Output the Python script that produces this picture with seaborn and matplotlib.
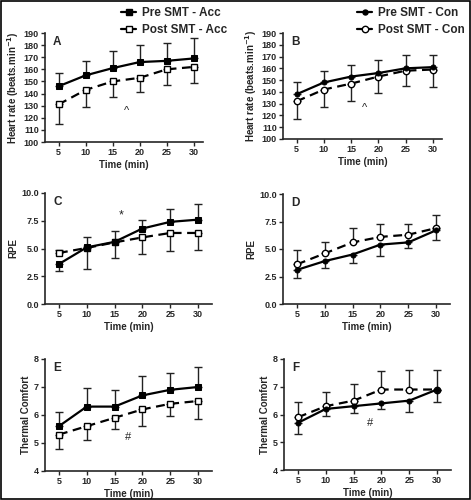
import numpy as np
import pandas as pd
import matplotlib
matplotlib.use("Agg")
import matplotlib.pyplot as plt
import seaborn as sns
from matplotlib.lines import Line2D
from matplotlib.patches import Rectangle

sns.set_style("ticks")
plt.rcParams['font.family'] = ['Liberation Sans', 'DejaVu Sans']

time = [5, 10, 15, 20, 25, 30]

# heart rate (beats.min-1)
hr_pre_acc = [146, 155, 161, 166, 167, 169]
hr_pre_acc_sd = [11, 12, 14, 14, 15, 17]
hr_post_acc = [131, 143, 150, 153, 160, 162]
hr_post_acc_sd = [16, 14, 13, 12, 13, 13]
hr_pre_con = [138, 148, 153, 156, 160, 161]
hr_pre_con_sd = [10, 10, 10, 11, 11, 10]
hr_post_con = [132, 142, 147, 153, 158, 159]
hr_post_con_sd = [15, 15, 15, 14, 13, 15]

# RPE
rpe_pre_acc = [3.6, 5.1, 5.6, 6.8, 7.4, 7.6]
rpe_pre_acc_sd = [0.6, 0.9, 1.0, 0.8, 1.2, 1.4]
rpe_post_acc = [4.6, 5.05, 5.55, 6.0, 6.4, 6.4]
rpe_post_acc_sd = [0.3, 1.9, 1.4, 1.5, 1.6, 1.5]
rpe_pre_con = [3.1, 3.9, 4.5, 5.4, 5.6, 6.7]
rpe_pre_con_sd = [0.7, 0.6, 0.8, 1.0, 0.5, 0.9]
rpe_post_con = [3.6, 4.6, 5.6, 6.1, 6.3, 6.9]
rpe_post_con_sd = [1.3, 1.0, 1.3, 1.2, 1.0, 1.2]

# thermal comfort
tc_pre_acc = [5.6, 6.3, 6.3, 6.7, 6.9, 7.0]
tc_pre_acc_sd = [0.5, 0.65, 0.6, 0.7, 0.6, 0.7]
tc_post_acc = [5.3, 5.6, 5.9, 6.2, 6.4, 6.5]
tc_post_acc_sd = [0.5, 0.5, 0.4, 0.6, 0.45, 0.65]
tc_pre_con = [5.7, 6.2, 6.3, 6.4, 6.5, 6.9]
tc_pre_con_sd = [0.4, 0.25, 0.25, 0.2, 0.4, 0.45]
tc_post_con = [5.9, 6.3, 6.5, 6.9, 6.9, 6.9]
tc_post_con_sd = [0.55, 0.5, 0.6, 0.65, 0.7, 0.7]

W, H = 471, 500
fig = plt.figure(figsize=(W / 100, H / 100), dpi=100)

# axes boxes in pixels: left, top, right, bottom
boxes = {
    'A': (45, 33, 203, 142), 'B': (283, 33, 442, 139),
    'C': (45, 193, 212, 304), 'D': (283, 194, 450, 304),
    'E': (45, 359, 212, 471), 'F': (284, 359, 451, 470),
}

def make_ax(key):
    l, t, r, b = boxes[key]
    return fig.add_axes([l / W, 1 - b / H, (r - l) / W, (b - t) / H])

# marker, pre size, post size
acc_mk = ('s', 4.2, 4.6)
con_mk = ('o', 3.6, 4.6)

panels = [
    ('A', hr_pre_acc, hr_pre_acc_sd, hr_post_acc, hr_post_acc_sd, acc_mk, 'hr'),
    ('B', hr_pre_con, hr_pre_con_sd, hr_post_con, hr_post_con_sd, con_mk, 'hr'),
    ('C', rpe_pre_acc, rpe_pre_acc_sd, rpe_post_acc, rpe_post_acc_sd, acc_mk, 'rpe'),
    ('D', rpe_pre_con, rpe_pre_con_sd, rpe_post_con, rpe_post_con_sd, con_mk, 'rpe'),
    ('E', tc_pre_acc, tc_pre_acc_sd, tc_post_acc, tc_post_acc_sd, acc_mk, 'tc'),
    ('F', tc_pre_con, tc_pre_con_sd, tc_post_con, tc_post_con_sd, con_mk, 'tc'),
]

for key, pre, pre_sd, post, post_sd, (mk, ms_pre, ms_post), kind in panels:
    ax = make_ax(key)
    pre = np.array(pre); post = np.array(post)
    pre_sd = np.array(pre_sd); post_sd = np.array(post_sd)
    pre_up = pre > post
    # error bars only drawn away from the other series
    pre_err = [np.where(pre_up, 0, pre_sd), np.where(pre_up, pre_sd, 0)]
    post_err = [np.where(pre_up, post_sd, 0), np.where(pre_up, 0, post_sd)]
    ax.errorbar(time, pre, yerr=pre_err, fmt='none', ecolor='#222222',
                elinewidth=1.0, capsize=3, capthick=1.0, zorder=1)
    ax.errorbar(time, post, yerr=post_err, fmt='none', ecolor='#222222',
                elinewidth=1.0, capsize=3, capthick=1.0, zorder=1)

    df = pd.DataFrame({'time': time * 2, 'value': np.concatenate([pre, post]),
                       'group': ['Pre'] * 6 + ['Post'] * 6})
    sns.lineplot(data=df[df.group == 'Post'], x='time', y='value', ax=ax,
                 color='black', lw=1.6, linestyle=(0, (4, 2.5)), marker=mk,
                 markersize=ms_post, markerfacecolor='white', markeredgecolor='black',
                 markeredgewidth=1.0, zorder=3)
    sns.lineplot(data=df[df.group == 'Pre'], x='time', y='value', ax=ax,
                 color='black', lw=1.6, marker=mk, markersize=ms_pre,
                 markerfacecolor='black', markeredgecolor='black', zorder=4)

    ax.set_xticks(time)
    if kind == 'hr':
        ax.set_xlim(2.5, 31.7)
        ax.set_ylim(100, 190)
        ax.set_yticks(range(100, 191, 10))
        ax.set_ylabel('Heart rate (beats.min$^{\\mathbf{-1}}$)', fontsize=7, fontweight='bold', labelpad=2)
        ax.text(17.5, 126, '^', fontsize=8, ha='center', va='center')
    elif kind == 'rpe':
        ax.set_xlim(2.5, 32.5)
        ax.set_ylim(0, 10)
        ax.set_yticks([0, 2.5, 5, 7.5, 10])
        ax.set_yticklabels(['0.0', '2.5', '5.0', '7.5', '10.0'])
        ax.set_ylabel('RPE', fontsize=7, fontweight='bold', labelpad=2)
        if key == 'C':
            ax.text(16.2, 8.0, '*', fontsize=9, ha='center', va='center')
    else:
        ax.set_xlim(2.5, 32.5)
        ax.set_ylim(4, 8)
        ax.set_yticks([4, 5, 6, 7, 8])
        ax.set_ylabel('Thermal Comfort', fontsize=7, fontweight='bold', labelpad=2)
        hx, hy = (17.5, 5.2) if key == 'E' else (18.0, 5.7)
        ax.text(hx, hy, '#', fontsize=8, ha='center', va='center')

    ax.set_xlabel('Time (min)', fontsize=7, fontweight='bold', labelpad=2)
    ax.tick_params(labelsize=6.5, length=3, width=1, pad=1.5)
    for lbl in ax.get_xticklabels() + ax.get_yticklabels():
        lbl.set_fontweight('bold')
    sns.despine(ax=ax)
    for s in ['left', 'bottom']:
        ax.spines[s].set_linewidth(1.2)
    ax.text(0.05, 0.97, key, transform=ax.transAxes, fontsize=8.5,
            fontweight='bold', va='top', ha='left')

    if key in ('A', 'B'):
        suffix = 'Acc' if key == 'A' else 'Con'
        handles = [
            Line2D([], [], color='black', lw=1.6, marker=mk, markersize=ms_pre,
                   markerfacecolor='black'),
            Line2D([], [], color='black', lw=1.6, marker=mk, markersize=ms_post,
                   markerfacecolor='white'),
        ]
        anchor = (114 / W, 1.0) if key == 'A' else (350 / W, 1.0)
        ax.legend(handles, ['Pre SMT - ' + suffix, 'Post SMT - ' + suffix],
                  loc='upper left', bbox_to_anchor=anchor, bbox_transform=fig.transFigure,
                  frameon=False, handlelength=1.3, handletextpad=0.5, labelspacing=0.45,
                  borderaxespad=0.2, prop={'weight': 'bold', 'size': 8.5})

fig.patches.append(Rectangle((0.002, 0.002), 0.996, 0.996, transform=fig.transFigure,
                             fill=False, edgecolor='black', lw=1.2))

fig.savefig('out.png', dpi=100)
